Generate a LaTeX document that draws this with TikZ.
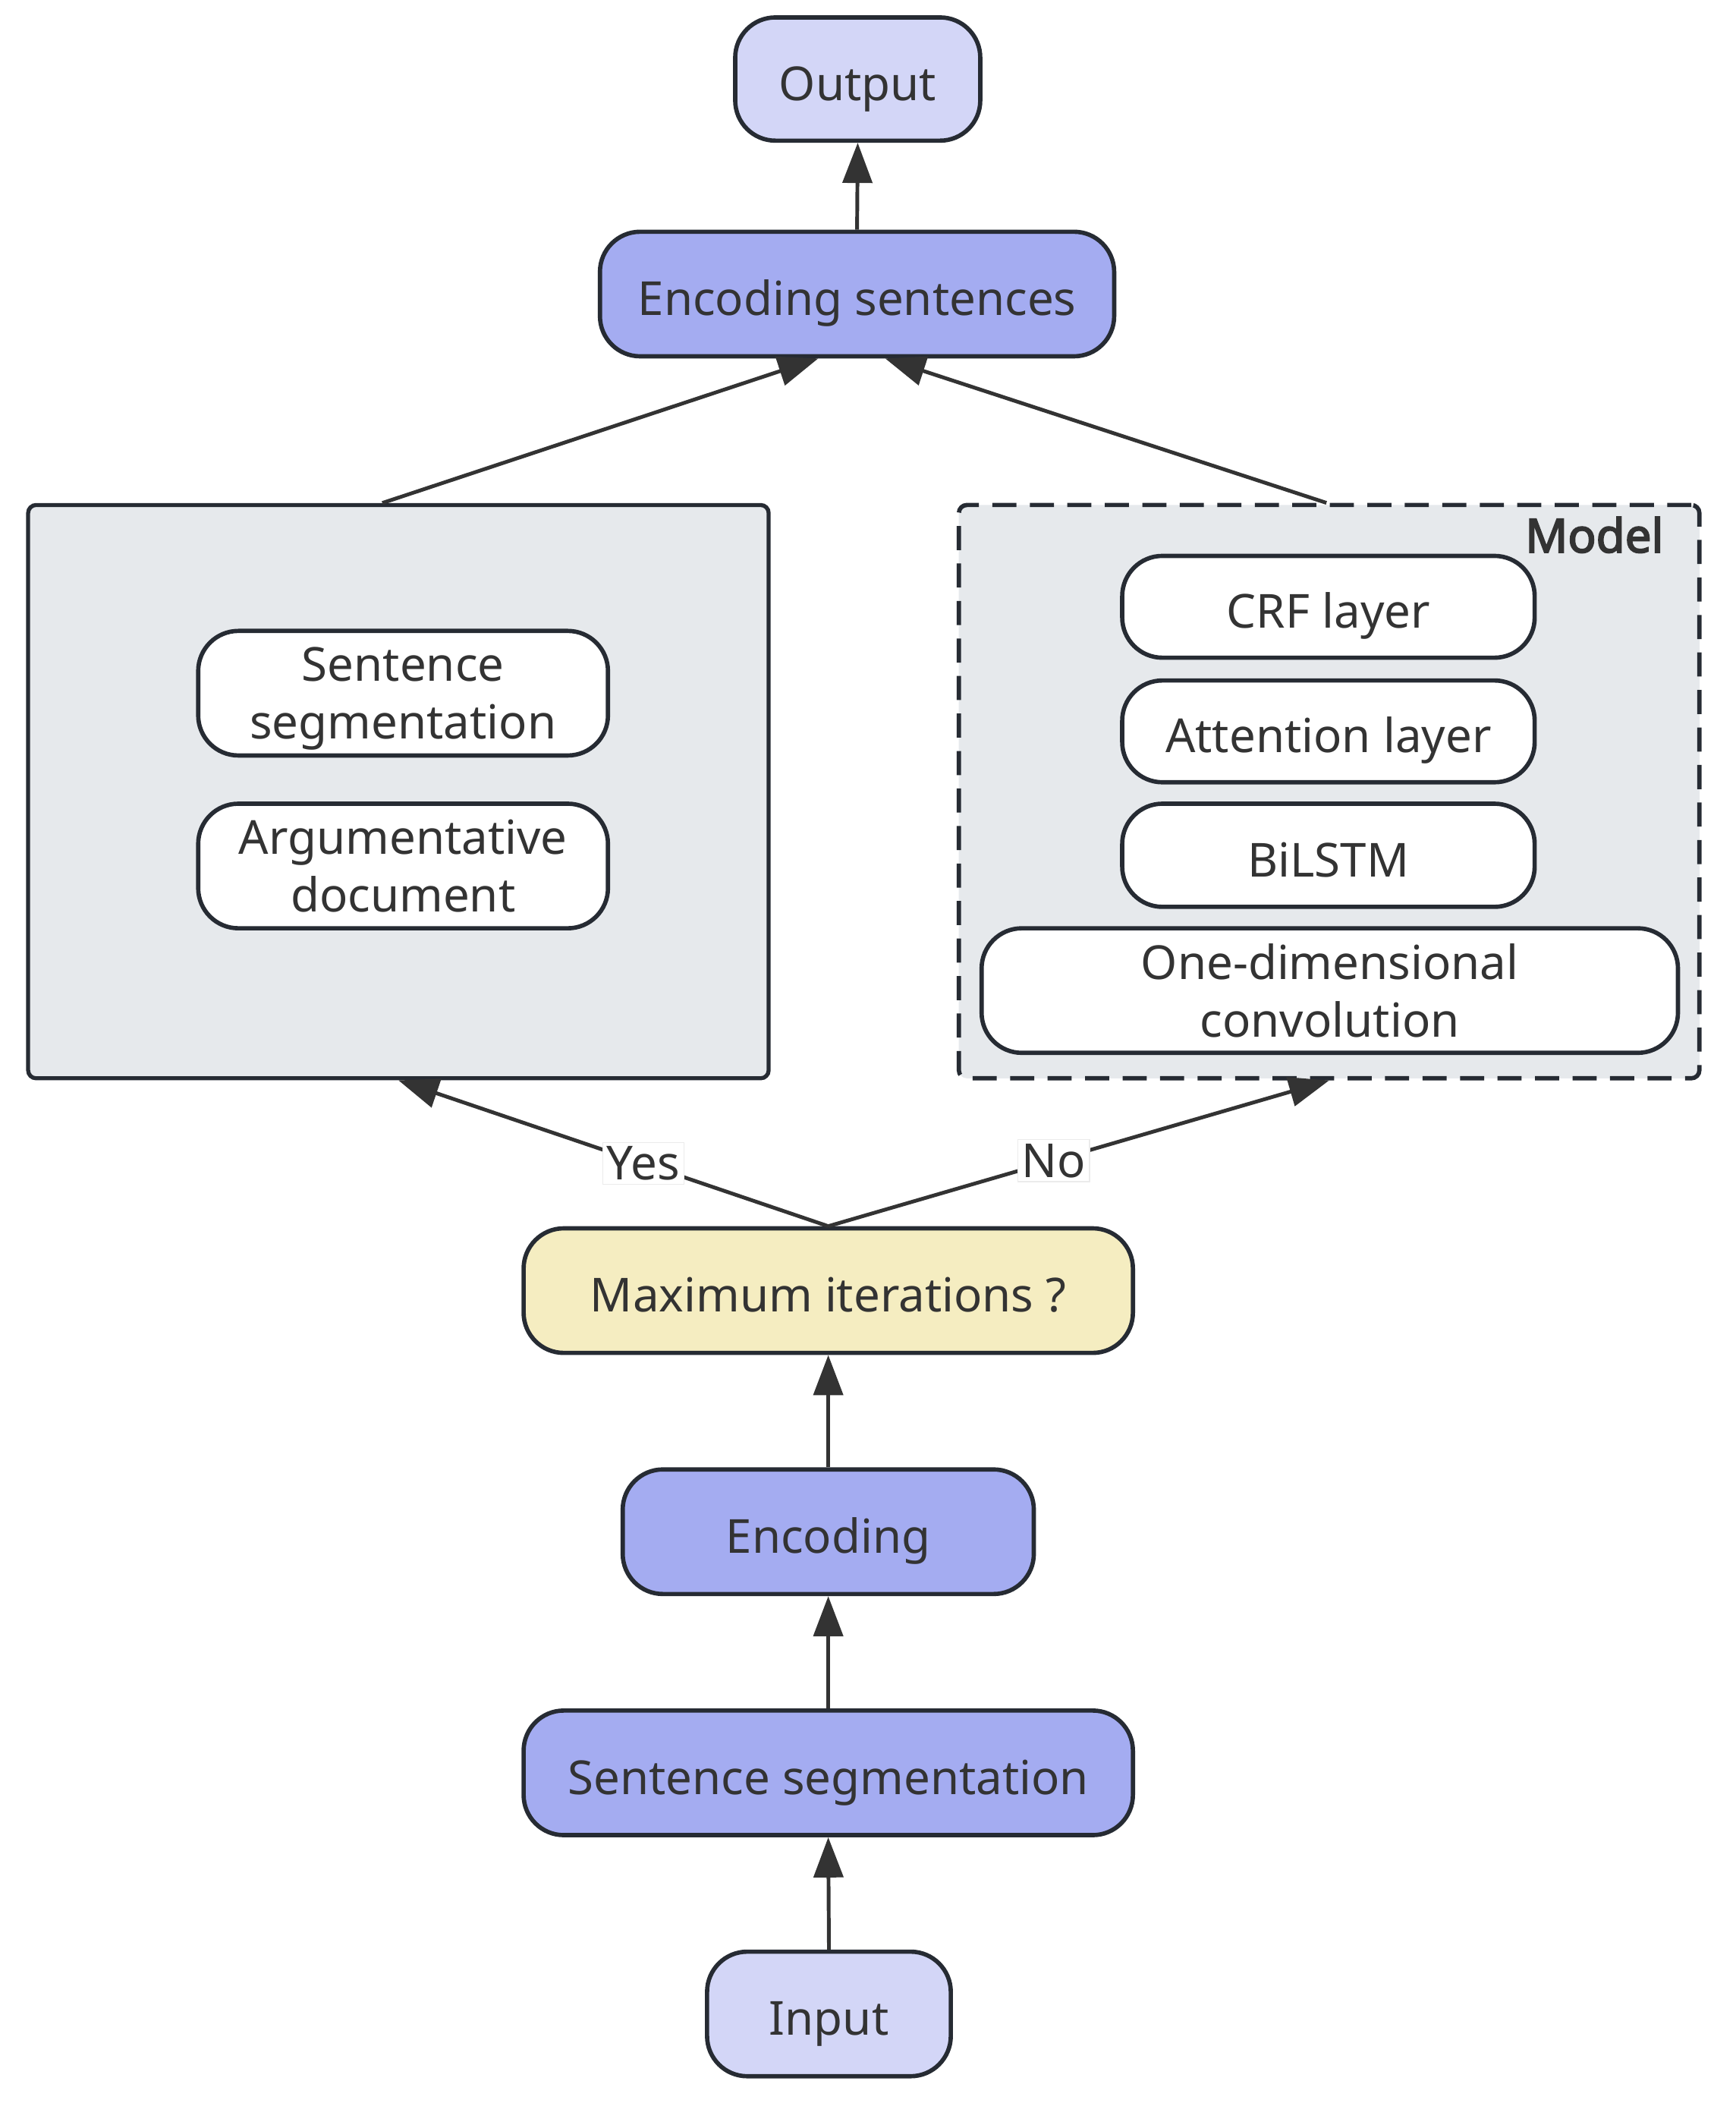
\documentclass[tikz,border=0pt]{standalone}
\usepackage{fontspec}
\setmainfont{Noto Sans}
\newfontfamily\modelfont{Noto Sans}[FakeBold=3]
\usetikzlibrary{arrows.meta}
\definecolor{bord}{HTML}{262B33}
\definecolor{txt}{HTML}{333333}
\definecolor{arrc}{HTML}{333333}
\definecolor{lightblue}{HTML}{D3D6F7}
\definecolor{midblue}{HTML}{A4ACF1}
\definecolor{yel}{HTML}{F5EDC1}
\definecolor{grp}{HTML}{E6E9EC}
\tikzset{
  box/.style={draw=bord, line width=1.6pt, rounded corners=15pt, align=center, inner sep=0pt, text=txt},
  one/.style={text height=20pt, text depth=4pt},
  two/.style={text depth=-4.3pt},
  grpbox/.style={draw=bord, line width=1.5pt, rounded corners=3pt, fill=grp, inner sep=0pt},
  arr/.style={-{Triangle[length=15pt,width=11pt]}, line width=1.4pt, draw=arrc},
  lab/.style={fill=white, draw=black!8, line width=0.4pt, inner sep=1.5pt, text=txt},
}
\begin{document}
\begin{tikzpicture}[x=0.5pt,y=-0.5pt, font=\fontsize{17.5}{21.5}\selectfont]
\useasboundingbox (0,0) rectangle (1296,1570);
% groups
\node[grpbox, minimum width=276.5pt, minimum height=214pt] (leftbox) at (297.5,591) {};
\node[grpbox, dashed, dash pattern=on 9pt off 5pt, line width=1.6pt, minimum width=276.5pt, minimum height=214pt] (model) at (992.5,591) {};
\node[anchor=base east, font=\fontsize{17.5}{21.5}\modelfont, text=txt, inner sep=0pt] (modellab) at ([xshift=-14pt,yshift=-18.5pt]model.north east) {Model};
% top
\node[box, one, fill=lightblue, minimum width=91.5pt, minimum height=46pt] (output) at (640.5,59) {Output};
\node[box, one, fill=midblue, minimum width=192pt, minimum height=46.5pt] (encsent) at (640,219.5) {Encoding sentences};
% left group content
\node[box, two, fill=white, minimum width=153pt, minimum height=46.5pt] (sseg1) at (301,517.5) {Sentence\\segmentation};
\node[box, two, fill=white, minimum width=153pt, minimum height=46.5pt] (argdoc) at (301,646.5) {Argumentative\\document};
% model content
\node[box, one, fill=white, minimum width=154pt, minimum height=38pt] (crf) at (992,453) {CRF layer};
\node[box, one, fill=white, minimum width=154pt, minimum height=38pt] (att) at (992,546) {Attention layer};
\node[box, one, fill=white, minimum width=154pt, minimum height=38.5pt] (bilstm) at (992,638.5) {BiLSTM};
\node[box, two, fill=white, minimum width=260pt, minimum height=46.5pt] (conv) at (993,739.5) {One-dimensional\\convolution};
% bottom chain
\node[box, one, fill=yel, minimum width=227.5pt, minimum height=46.5pt] (maxit) at (618.5,963.5) {Maximum iterations ?};
\node[box, one, fill=midblue, minimum width=153.5pt, minimum height=46.5pt] (enc) at (618.5,1143.5) {Encoding};
\node[box, one, fill=midblue, minimum width=227.5pt, minimum height=46.5pt] (sseg2) at (618.5,1323.5) {Sentence segmentation};
\node[box, one, fill=lightblue, minimum width=91pt, minimum height=46.5pt] (input) at (619,1503.5) {Input};
% connectors
\draw[arr] (encsent.north) -- (output.south);
\draw[arr] ([xshift=-6pt]leftbox.north) -- ([xshift=-14.5pt]encsent.south);
\draw[arr] ([xshift=-1pt]model.north) -- ([xshift=10.5pt]encsent.south);
\draw[arr] (maxit.north) -- node[lab, pos=0.43] {Yes} (leftbox.south);
\draw[arr] (maxit.north) -- node[lab, pos=0.45] {No} (model.south);
\draw[arr] (enc.north) -- (maxit.south);
\draw[arr] (sseg2.north) -- (enc.south);
\draw[arr] (input.north) -- (sseg2.south);
\end{tikzpicture}
\end{document}
